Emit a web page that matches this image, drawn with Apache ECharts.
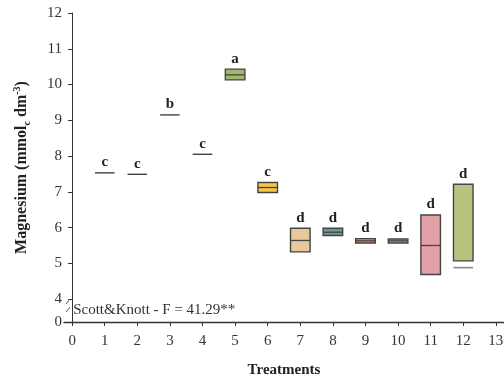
<!DOCTYPE html>
<html>
<head>
<meta charset="utf-8">
<script src="https://cdn.jsdelivr.net/npm/echarts@6/dist/echarts.min.js"></script>
<style>
  html, body { margin: 0; padding: 0; background: #fff; }
  #chart { width: 504px; height: 382px; }
</style>
</head>
<body>
<div id="chart"></div>
<script>
// Magnesium per treatment: lower edge, middle line and upper edge of each box
const treatments = [1, 2, 3, 4, 5, 6, 7, 8, 9, 10, 11, 12];
const lower  = [7.53, 7.49, 9.15, 8.05, 10.13, 6.98, 5.32, 5.78, 5.57, 5.57, 4.69, 5.07];
const middle = [7.53, 7.49, 9.15, 8.05, 10.27, 7.12, 5.64, 5.87, 5.63, 5.63, 5.50, 4.88];
const upper  = [7.53, 7.49, 9.15, 8.05, 10.43, 7.26, 5.98, 5.98, 5.69, 5.68, 6.35, 7.21];
const letters = ['c', 'c', 'b', 'c', 'a', 'c', 'd', 'd', 'd', 'd', 'd', 'd'];
const fills = ['#333', '#333', '#333', '#333', '#a3b76c', '#f6c846', '#e8c99e',
               '#6f9796', '#ee8c52', '#a2a2c2', '#e2a1a9', '#b7c47f'];
const yTicks = [4, 5, 6, 7, 8, 9, 10, 11, 12];
const xTicks = [0, 1, 2, 3, 4, 5, 6, 7, 8, 9, 10, 11, 12, 13];
const yBreakBase = 3.36;   // axis position that carries the "0" label below the break
const statText = 'Scott&Knott - F = 41.29**';

const FONT = 'Liberation Serif';
const AXIS_SHIFT = 5;      // y axis sits a little inside the left end of the x axis
const chart = echarts.init(document.getElementById('chart'));

const seriesData = treatments.map((t, i) => [t, lower[i], middle[i], upper[i], i]);

function renderItem(params, api) {
  const i = api.value(4);
  const x = api.value(0);
  const halfW = api.size([0.6, 0])[0] / 2;
  const pLow = api.coord([x, api.value(1)]);
  const pMid = api.coord([x, api.value(2)]);
  const pUp = api.coord([x, api.value(3)]);
  const cx = pLow[0];
  const children = [];
  const flat = api.value(1) === api.value(3);
  if (flat) {
    children.push({
      type: 'line',
      shape: { x1: cx - halfW, y1: pMid[1], x2: cx + halfW, y2: pMid[1] },
      style: { stroke: '#333', lineWidth: 1.3 }
    });
  } else {
    children.push({
      type: 'rect',
      shape: { x: cx - halfW, y: pUp[1], width: halfW * 2, height: pLow[1] - pUp[1] },
      style: { fill: fills[i], stroke: '#444', lineWidth: 1.4 }
    });
    const inside = api.value(2) >= api.value(1) && api.value(2) <= api.value(3);
    children.push({
      type: 'line',
      shape: { x1: cx - halfW, y1: pMid[1], x2: cx + halfW, y2: pMid[1] },
      style: { stroke: inside ? '#444' : '#888', lineWidth: inside ? 1.3 : 1.6 }
    });
  }
  children.push({
    type: 'text',
    style: {
      text: letters[i], x: cx, y: pUp[1] - 3,
      align: 'center', verticalAlign: 'bottom',
      font: 'bold 15px "' + FONT + '"', fill: '#222'
    }
  });
  return { type: 'group', children: children };
}

chart.setOption({
  animation: false,
  grid: { left: 64, right: 0, top: 13, bottom: 60, outerBoundsMode: 'none', containLabel: false },
  xAxis: {
    type: 'value', min: -0.25, max: 13.25,
    name: 'Treatments', nameLocation: 'middle', nameGap: 41,
    nameTextStyle: { fontFamily: FONT, fontWeight: 'bold', fontSize: 15, color: '#222' },
    axisLine: { lineStyle: { color: '#333', width: 1.3 } },
    axisTick: { customValues: xTicks, length: 4, lineStyle: { color: '#333' } },
    axisLabel: { customValues: xTicks, margin: 12, fontFamily: FONT, fontSize: 15, color: '#333' },
    splitLine: { show: false }
  },
  yAxis: {
    type: 'value', min: yBreakBase, max: 12, offset: -AXIS_SHIFT,
    name: '{t|Magnesium (mmol}{sub|c}{t| dm}{sup|-3}{t|)}',
    nameLocation: 'middle', nameGap: 37, nameRotate: 90,
    nameTextStyle: {
      rich: {
        t: { fontFamily: FONT, fontWeight: 'bold', fontSize: 16, color: '#222', lineHeight: 20 },
        sub: { fontFamily: FONT, fontWeight: 'bold', fontSize: 10, color: '#222', verticalAlign: 'bottom', lineHeight: 20 },
        sup: { fontFamily: FONT, fontWeight: 'bold', fontSize: 10, color: '#222', verticalAlign: 'top', lineHeight: 20 }
      }
    },
    axisLine: { show: true, lineStyle: { color: '#333', width: 1 } },
    axisTick: { show: true, customValues: [yBreakBase].concat(yTicks), length: 4, lineStyle: { color: '#333' } },
    axisLabel: {
      customValues: [yBreakBase].concat(yTicks), margin: 7,
      fontFamily: FONT, fontSize: 15, color: '#333',
      formatter: v => (Math.abs(v - yBreakBase) < 1e-6 ? '0' : String(Math.round(v)))
    },
    splitLine: { show: false }
  },
  series: [{
    type: 'custom',
    renderItem: renderItem,
    data: seriesData,
    clip: false
  }]
});

// Axis break marks and the test statistic, placed through the axis scales
const pBreakTop = chart.convertToPixel({ gridIndex: 0 }, [-0.25, 4]);
const yAxisPx = pBreakTop[0] + AXIS_SHIFT;
const bTop = pBreakTop[1] + 1;
const pStat = chart.convertToPixel({ gridIndex: 0 }, [0, 3.7]);
chart.setOption({
  graphic: [
    { type: 'rect', shape: { x: yAxisPx - 2, y: bTop, width: 4, height: 9 }, style: { fill: '#fff' }, z: 100 },
    { type: 'line', shape: { x1: yAxisPx - 3, y1: bTop + 4, x2: yAxisPx + 1, y2: bTop - 1 }, style: { stroke: '#555', lineWidth: 1 }, z: 101 },
    { type: 'line', shape: { x1: yAxisPx - 3, y1: bTop + 12, x2: yAxisPx + 1, y2: bTop + 7 }, style: { stroke: '#555', lineWidth: 1 }, z: 101 },
    {
      type: 'text', z: 101,
      style: {
        text: statText, x: pStat[0] + 1, y: pStat[1],
        align: 'left', verticalAlign: 'middle',
        font: '15px "' + FONT + '"', fill: '#333'
      }
    }
  ]
});
</script>
</body>
</html>
